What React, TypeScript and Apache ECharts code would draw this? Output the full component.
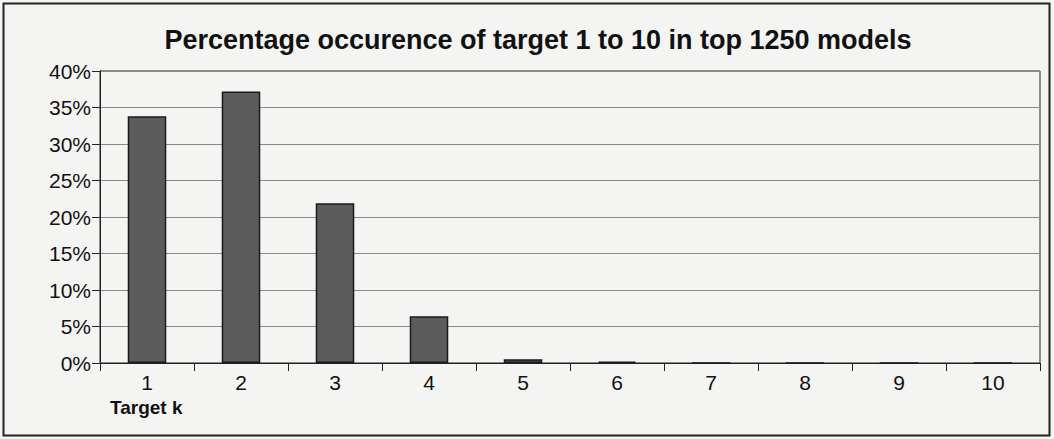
import React, { useEffect, useRef } from "react";
import * as echarts from "echarts";

const titleText = "Percentage occurence of target 1 to 10 in top 1250 models";
const categories = ["1", "2", "3", "4", "5", "6", "7", "8", "9", "10"];
const occurrence = [33.8, 37.2, 21.9, 6.4, 0.5, 0.2, 0, 0, 0, 0];
const axisName = "Target k";

const FONT = "'Liberation Sans', Arial, sans-serif";

export default function App() {
  const ref = useRef<HTMLDivElement>(null);

  useEffect(() => {
    document.body.style.margin = "0";
    const chart = echarts.init(ref.current!, null, { renderer: "svg" });
    chart.setOption({
      animation: false,
      backgroundColor: "#f4f4f2",
      title: {
        text: titleText,
        left: 533,
        textAlign: "center",
        top: 21,
        textStyle: { fontFamily: FONT, fontWeight: "bold", fontSize: 27, color: "#111" },
      },
      grid: {
        left: 100,
        right: 14,
        top: 71,
        bottom: 76,
        show: true,
        borderColor: "#222",
        borderWidth: 1,
        backgroundColor: "transparent",
      },
      xAxis: {
        type: "category",
        data: categories,
        axisLine: { lineStyle: { color: "#222", width: 1 } },
        axisTick: { show: true, length: 8, alignWithLabel: false, lineStyle: { color: "#222" } },
        axisLabel: { fontFamily: FONT, fontSize: 21, color: "#111", margin: 9 },
      },
      yAxis: {
        type: "value",
        min: 0,
        max: 40,
        interval: 5,
        axisLine: { show: true, lineStyle: { color: "#222" } },
        axisTick: { show: true, length: 8, lineStyle: { color: "#222" } },
        axisLabel: {
          fontFamily: FONT,
          fontSize: 21,
          color: "#111",
          margin: 9,
          formatter: (v: number) => `${v}%`,
        },
        splitLine: { lineStyle: { color: "#8a8a8a", width: 1 } },
      },
      graphic: [
        {
          type: "rect",
          shape: { x: 3.5, y: 3.5, width: 1046, height: 432 },
          style: { fill: "none", stroke: "#222", lineWidth: 2 },
          silent: true,
        },
        {
          type: "text",
          left: 110,
          top: 398,
          style: {
            text: axisName,
            fontFamily: FONT,
            fontWeight: "bold",
            fontSize: 19,
            fill: "#111",
          },
        },
      ],
      series: [
        {
          type: "bar",
          data: occurrence,
          barWidth: "41%",
          itemStyle: { color: "#5c5c5c", borderColor: "#1a1a1a", borderWidth: 1.5 },
        },
      ],
    });
    return () => chart.dispose();
  }, []);

  return <div ref={ref} style={{ width: 1054, height: 439 }} />;
}
